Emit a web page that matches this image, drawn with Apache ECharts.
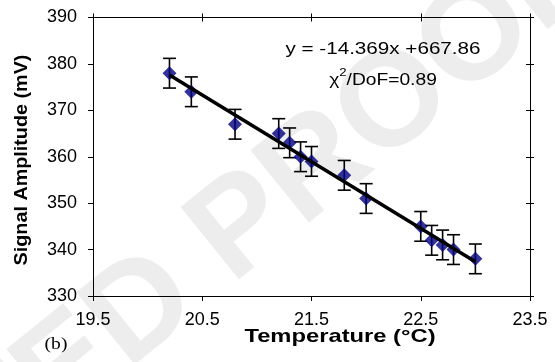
<!DOCTYPE html>
<html><head><meta charset="utf-8">
<script src="https://cdn.jsdelivr.net/npm/echarts@6/dist/echarts.min.js"></script>
<style>html,body{margin:0;padding:0;background:#fff}#c{width:555px;height:362px}</style>
</head><body><div id="c"></div>
<script>
// ---- data ----
const temperature = [20.2, 20.4, 20.8, 21.2, 21.3, 21.4, 21.5, 21.8, 22.0, 22.5, 22.6, 22.7, 22.8, 23.0];
const amplitude   = [378, 374, 367, 365, 363, 360, 359, 356, 351, 345, 342, 341, 340, 338];
const amplitudeErr = [3.2, 3.2, 3.2, 3.2, 3.2, 3.2, 3.2, 3.2, 3.2, 3.2, 3.2, 3.2, 3.2, 3.2];
const fitX = [20.2, 23.0];
const fitY = [377.61, 337.37];
const xTickLabels = ['19.5', '20.5', '21.5', '22.5', '23.5'];
const yTickLabels = ['330', '340', '350', '360', '370', '380', '390'];
const xTitle = 'Temperature (°C)';
const yTitle = 'Signal Amplitude (mV)';
const equationText = 'y = -14.369x +667.86';
const panelLabel = '(b)';

const FONT = '"Liberation Sans", Arial, Helvetica, sans-serif';
const points = temperature.map((t, i) => [t, amplitude[i]]);
const errData = temperature.map((t, i) => [t, amplitude[i] - amplitudeErr[i], amplitude[i] + amplitudeErr[i]]);
const fitData = fitX.map((x, i) => [x, fitY[i]]);

const xMin = parseFloat(xTickLabels[0]), xMax = parseFloat(xTickLabels[xTickLabels.length - 1]);
const yMin = parseFloat(yTickLabels[0]), yMax = parseFloat(yTickLabels[yTickLabels.length - 1]);

const lineStyle = { color: '#000', width: 1 };
function xAx(pos, tickInside, showLine, showLabel, len) {
  return {
    type: 'value', position: pos, min: xMin, max: xMax, interval: 1,
    axisLine: { show: showLine, onZero: false, lineStyle: lineStyle },
    axisTick: { show: true, inside: tickInside, length: len, lineStyle: lineStyle },
    axisLabel: { show: showLabel, margin: 15, color: '#000', fontSize: 18, fontFamily: FONT,
      formatter: v => v.toFixed(1) },
    splitLine: { show: false }
  };
}
function yAx(pos, tickInside, showLine, showLabel, len) {
  return {
    type: 'value', position: pos, min: yMin, max: yMax, interval: 10,
    axisLine: { show: showLine, onZero: false, lineStyle: lineStyle },
    axisTick: { show: true, inside: tickInside, length: len, lineStyle: lineStyle },
    axisLabel: { show: showLabel, margin: 16, color: '#000', fontSize: 18, fontFamily: FONT },
    splitLine: { show: false }
  };
}

const chart = echarts.init(document.getElementById('c'), null, { renderer: 'canvas' });
chart.setOption({
  animation: false,
  backgroundColor: '#fff',
  grid: { left: 93, right: 25, top: 17.5, bottom: 66, containLabel: false },
  xAxis: [
    xAx('bottom', false, true, true, 5),
    xAx('top', false, true, false, 4),
    xAx('top', true, false, false, 4)
  ],
  yAxis: [
    yAx('left', false, true, true, 5),
    yAx('right', false, true, false, 4),
    yAx('right', true, false, false, 4)
  ],
  graphic: [
    { type: 'text', z: -10, x: 395, y: 105, rotation: 39 * Math.PI / 180,
      style: { text: 'PROOF', font: 'bold 135px ' + FONT, fill: '#ededed', textAlign: 'center', textVerticalAlign: 'middle' } },
    { type: 'text', z: -10, x: 180, y: 280, rotation: 39 * Math.PI / 180,
      style: { text: 'UNCORRECTED', font: 'bold 135px ' + FONT, fill: '#ededed', textAlign: 'right', textVerticalAlign: 'middle' } },
    { type: 'text', z: 100, x: 340, y: 337, scaleX: 1.25,
      style: { text: xTitle, font: 'bold 19px ' + FONT, fill: '#000', textAlign: 'center', textVerticalAlign: 'middle' } },
    { type: 'text', z: 100, x: 22, y: 160, rotation: Math.PI / 2, scaleX: 1.04,
      style: { text: yTitle, font: 'bold 19px ' + FONT, fill: '#000', textAlign: 'center', textVerticalAlign: 'middle' } },
    { type: 'text', z: 100, x: 383, y: 50, scaleX: 1.29,
      style: { text: equationText, font: '16px ' + FONT, fill: '#000', textAlign: 'center', textVerticalAlign: 'middle' } },
    { type: 'text', z: 100, x: 383, y: 78, scaleX: 1.2,
      style: { text: '{a|χ}{s|2}{a|/DoF=0.89}', fill: '#000', textAlign: 'center', textVerticalAlign: 'middle',
        rich: {
          a: { fontSize: 16, fontFamily: FONT, color: '#000', lineHeight: 22, verticalAlign: 'bottom' },
          s: { fontSize: 11, fontFamily: FONT, color: '#000', lineHeight: 22, verticalAlign: 'top' }
        } } },
    { type: 'text', z: 100, x: 56, y: 345, scaleX: 1.15,
      style: { text: panelLabel, font: '17px "Liberation Serif", "Times New Roman", serif', fill: '#000', textAlign: 'center', textVerticalAlign: 'middle' } }
  ],
  series: [
    {
      type: 'custom', xAxisIndex: 0, yAxisIndex: 0, z: 3,
      data: errData,
      renderItem: function (params, api) {
        const x = api.value(0);
        const lo = api.coord([x, api.value(1)]);
        const hi = api.coord([x, api.value(2)]);
        const hw = 6.5;
        const st = { stroke: '#000', lineWidth: 1.6 };
        return { type: 'group', children: [
          { type: 'line', shape: { x1: lo[0], y1: lo[1], x2: hi[0], y2: hi[1] }, style: st },
          { type: 'line', shape: { x1: lo[0] - hw, y1: lo[1], x2: lo[0] + hw, y2: lo[1] }, style: st },
          { type: 'line', shape: { x1: hi[0] - hw, y1: hi[1], x2: hi[0] + hw, y2: hi[1] }, style: st }
        ] };
      }
    },
    {
      type: 'scatter', xAxisIndex: 0, yAxisIndex: 0, z: 4,
      data: points, symbol: 'diamond', symbolSize: [14, 14],
      itemStyle: { color: '#000080' }
    },
    {
      type: 'line', xAxisIndex: 0, yAxisIndex: 0, z: 5,
      data: fitData, showSymbol: false, symbol: 'none',
      lineStyle: { color: '#000', width: 3.5 }
    }
  ]
});
</script></body></html>
